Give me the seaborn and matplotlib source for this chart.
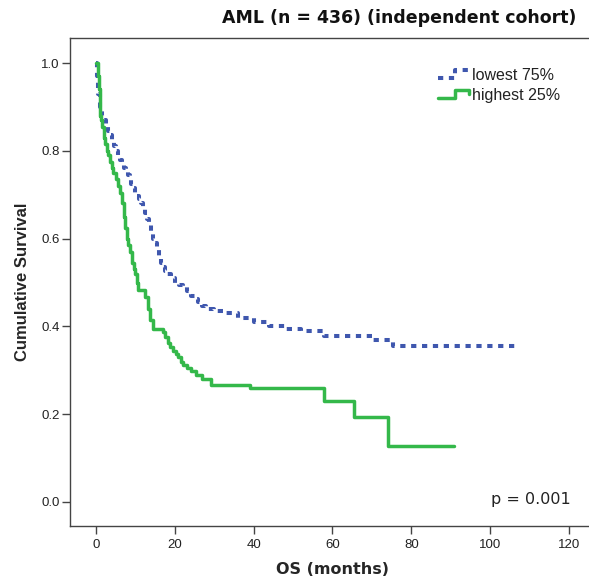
import numpy as np
import pandas as pd
import matplotlib
matplotlib.use("Agg")
import matplotlib.pyplot as plt
import seaborn as sns
from matplotlib.lines import Line2D
from matplotlib.legend_handler import HandlerBase

# ---- data ----
t_low = [0, 0.3, 0.6, 1.0, 1.5, 2, 2.5, 3, 3.5, 4, 4.5, 5, 5.5, 6, 6.5, 7, 7.5, 8, 8.5,
         9, 9.5, 10, 10.5, 11, 11.5, 12, 12.5, 13, 13.5, 14, 14.5, 15, 15.5, 16, 16.5,
         17, 17.5, 18, 19, 20, 21, 22, 23, 24, 25, 26, 27, 28, 30, 33, 36, 40, 44,
         48, 52, 57.8, 70.4, 75.4, 106.3]
s_low = [1.0, 0.97, 0.93, 0.90, 0.88, 0.87, 0.855, 0.845, 0.835, 0.825, 0.81, 0.80,
         0.79, 0.78, 0.77, 0.76, 0.753, 0.745, 0.735, 0.725, 0.715, 0.705, 0.697,
         0.69, 0.68, 0.67, 0.658, 0.645, 0.63, 0.615, 0.60, 0.59, 0.573, 0.555,
         0.545, 0.535, 0.527, 0.52, 0.51, 0.50, 0.495, 0.49, 0.48, 0.47, 0.462,
         0.455, 0.447, 0.44, 0.435, 0.43, 0.42, 0.41, 0.40, 0.395, 0.39, 0.378,
         0.369, 0.356, 0.356]

t_high = [0, 0.5, 0.7, 0.9, 1.0, 1.3, 1.6, 2.0, 2.4, 2.7, 3.1, 3.5, 4.0, 4.4, 5.0,
          5.5, 6.1, 6.6, 7.0, 7.4, 7.8, 8.2, 8.6, 9.2, 9.6, 9.9, 10.3, 10.7, 12.4,
          13.3, 13.6, 14.5, 17.1, 17.6, 18.2, 18.8, 19.5, 20.2, 20.9, 21.5, 22.2,
          23, 24, 25.5, 26.8, 29.3, 39.1, 57.8, 65.5, 74.2, 90.8]
s_high = [1.0, 0.97, 0.94, 0.91, 0.88, 0.87, 0.855, 0.83, 0.815, 0.80, 0.79, 0.775,
          0.76, 0.75, 0.735, 0.72, 0.705, 0.68, 0.65, 0.625, 0.60, 0.585, 0.57,
          0.545, 0.53, 0.52, 0.50, 0.483, 0.468, 0.44, 0.415, 0.395, 0.388, 0.375,
          0.362, 0.354, 0.345, 0.336, 0.33, 0.32, 0.313, 0.305, 0.298, 0.29, 0.28,
          0.267, 0.259, 0.231, 0.193, 0.128, 0.128]

groups = ["lowest 75%", "highest 25%"]
x_ticks = [0, 20, 40, 60, 80, 100, 120]
y_ticks = [0.0, 0.2, 0.4, 0.6, 0.8, 1.0]
title = "AML (n = 436) (independent cohort)"
p_text = "p = 0.001"

df = pd.concat([
    pd.DataFrame({"OS": t_low, "surv": s_low, "group": groups[0]}),
    pd.DataFrame({"OS": t_high, "surv": s_high, "group": groups[1]}),
], ignore_index=True)

# ---- style ----
sns.set_theme(style="white")
plt.rcParams["font.family"] = ["Liberation Sans", "DejaVu Sans"]

blue = "#3F57AE"
green = "#34B84A"
dark = "#444444"

fig = plt.figure(figsize=(5.89, 5.83), dpi=100)
ax = fig.add_axes([70 / 589, (583 - 526) / 583, 1 - 70 / 589 + 0.01, (526 - 38) / 583])

sns.lineplot(data=df[df.group == groups[0]], x="OS", y="surv", ax=ax,
             estimator=None, sort=False, drawstyle="steps-post",
             color=blue, linewidth=2.9, linestyle=(0, (1.3, 1.4)),
             dash_capstyle="butt", legend=False)
sns.lineplot(data=df[df.group == groups[1]], x="OS", y="surv", ax=ax,
             estimator=None, sort=False, drawstyle="steps-post",
             color=green, linewidth=2.5, legend=False)

ax.set_xlim(-6.6, 125.1 + 0.01 * 589 / 3.942)
ax.set_ylim(-0.0547, 1.057)
ax.set_xticks(x_ticks)
ax.set_yticks(y_ticks)
ax.set_yticklabels([f"{v:.1f}" for v in y_ticks])

for side in ["top", "left", "bottom"]:
    ax.spines[side].set_color(dark)
    ax.spines[side].set_linewidth(1.0)
ax.spines["right"].set_visible(False)
ax.tick_params(axis="both", which="major", direction="out", length=5.5,
               width=1.0, color=dark, labelcolor="#222222", labelsize=9.5,
               bottom=True, left=True, pad=2)
ax.tick_params(axis="x", pad=4)

ax.set_xlabel("OS (months)", fontsize=11.5, fontweight="bold", labelpad=8,
              family=["DejaVu Sans"])
ax.set_ylabel("Cumulative Survival", fontsize=12, fontweight="bold", labelpad=8)

fig.text(576 / 589, 1 - 18 / 583, title, ha="right", va="center",
         fontsize=12.5, fontweight="bold", color="#111111", family=["DejaVu Sans"])

ax.text(120.5, 0.005, p_text, ha="right", va="center", fontsize=11.5,
        color="#222222", family=["DejaVu Sans"])


class StepHandler(HandlerBase):
    def create_artists(self, legend, orig_handle, xdescent, ydescent, width,
                       height, fontsize, trans):
        x0 = -xdescent
        lo = -ydescent + height * 0.2
        hi = -ydescent + height * 0.85
        mid = -ydescent + height * 0.55
        xs = [x0, x0 + width * 0.55, x0 + width * 0.55, x0 + width, x0 + width]
        ys = [lo, lo, hi, hi, mid]
        ln = Line2D(xs, ys, color=orig_handle.get_color(),
                    linewidth=orig_handle.get_linewidth(),
                    linestyle=orig_handle.get_linestyle(),
                    transform=trans)
        if orig_handle.get_linestyle() != "-":
            ln.set_dashes((1.3, 1.4))
        return [ln]


h1 = Line2D([], [], color=blue, linewidth=2.9, linestyle=":")
h2 = Line2D([], [], color=green, linewidth=2.5, linestyle="-")
leg = ax.legend([h1, h2], groups, loc="upper left",
                bbox_to_anchor=((434 - 70) / 519, 1 - (68 - 38) / 488),
                frameon=False, fontsize=11.5, handlelength=1.95, handletextpad=0.15,
                labelspacing=0.3, borderpad=0, borderaxespad=0,
                handler_map={Line2D: StepHandler()})
for t in leg.get_texts():
    t.set_color("#222222")

fig.savefig("out.png", dpi=100)
